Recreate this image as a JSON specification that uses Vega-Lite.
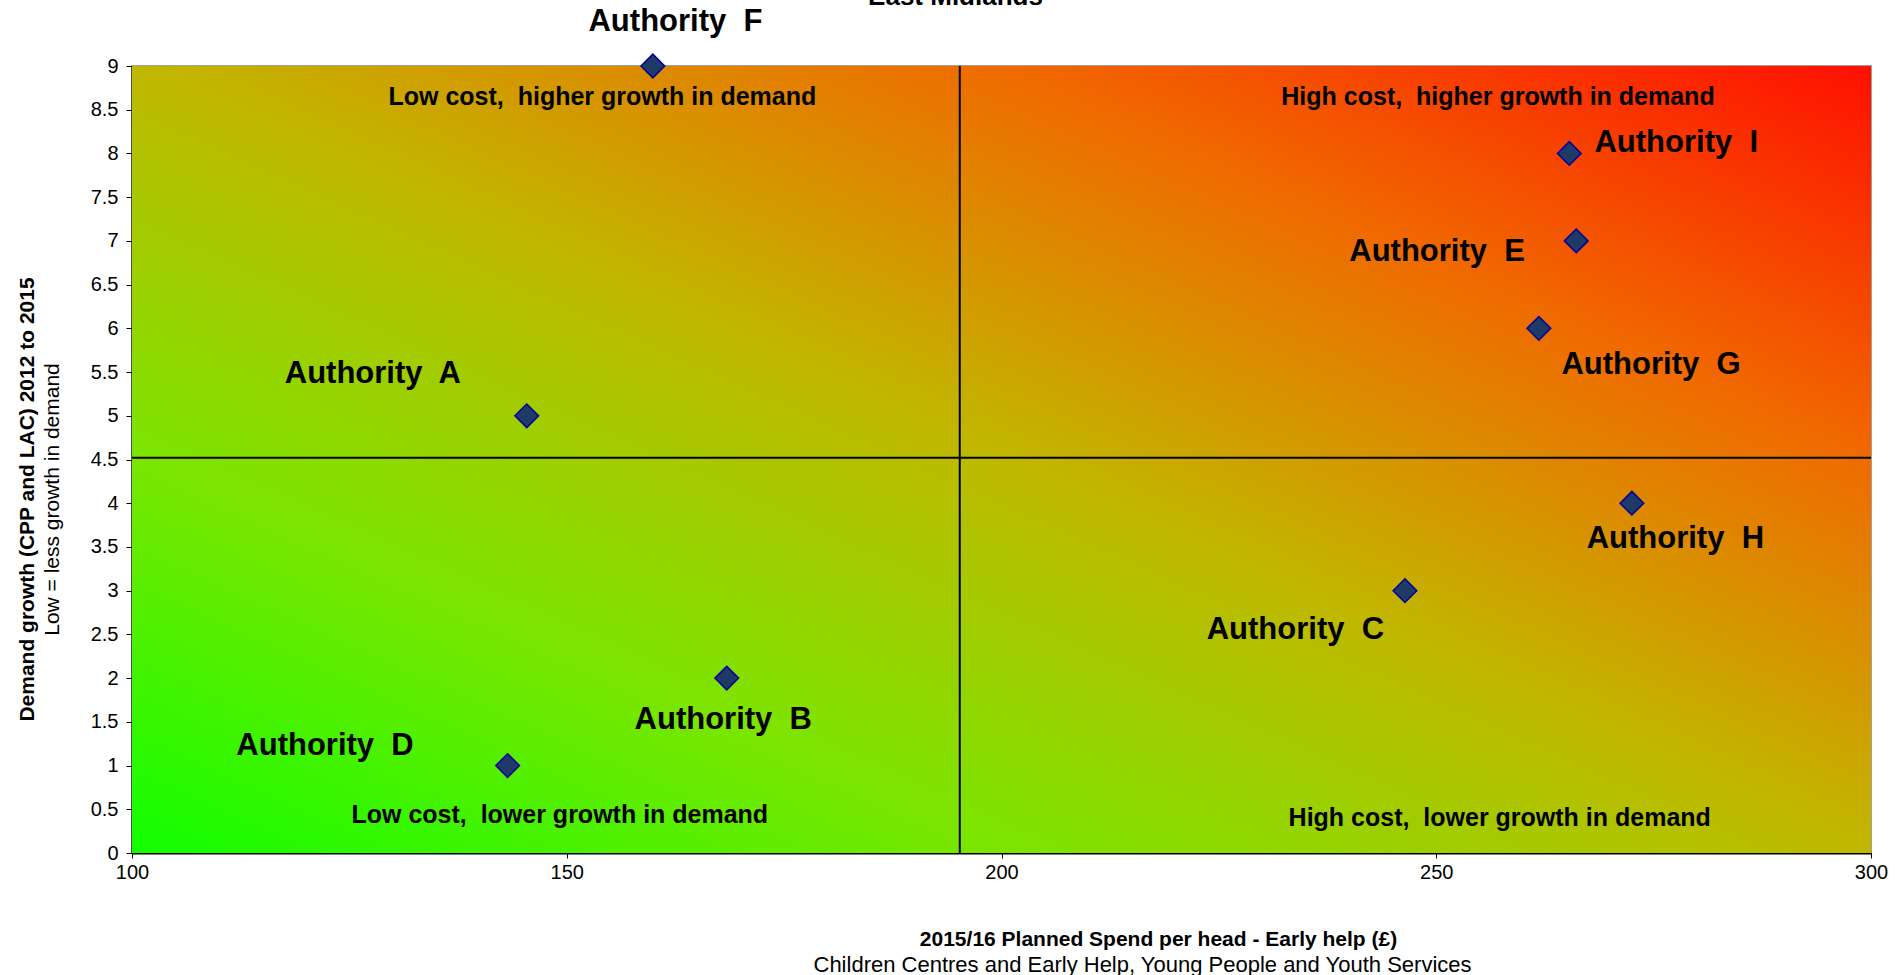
{
  "$schema": "https://vega.github.io/schema/vega-lite/v6.json",
  "width": 1739,
  "height": 787,
  "autosize": "none",
  "padding": {"left": 132, "top": 66, "right": 24, "bottom": 122},
  "background": "white",
  "config": {
    "font": "Liberation Sans",
    "view": {"stroke": "#a0a0a0", "strokeWidth": 2},
    "axis": {"grid": false, "labelColor": "black", "titleColor": "black", "domainColor": "black", "tickColor": "black", "labelFont": "Liberation Sans", "titleFont": "Liberation Sans"}
  },
  "datasets": {
    "thresholds": [
      {"avg_spend": 195.2, "avg_growth": 4.52}
    ],
    "authorities": [
      {"authority": "Authority\u00a0 A", "spend": 145.4, "growth": 5, "label_x": 127.7, "label_y": 5.48},
      {"authority": "Authority\u00a0 B", "spend": 168.4, "growth": 2, "label_x": 168.0, "label_y": 1.52},
      {"authority": "Authority\u00a0 C", "spend": 246.4, "growth": 3, "label_x": 233.8, "label_y": 2.55},
      {"authority": "Authority\u00a0 D", "spend": 143.2, "growth": 1, "label_x": 122.2, "label_y": 1.22},
      {"authority": "Authority\u00a0 E", "spend": 266.1, "growth": 7, "label_x": 250.1, "label_y": 6.87},
      {"authority": "Authority\u00a0 F", "spend": 159.9, "growth": 9, "label_x": 162.5, "label_y": 9.5},
      {"authority": "Authority\u00a0 G", "spend": 261.8, "growth": 6, "label_x": 274.7, "label_y": 5.58},
      {"authority": "Authority\u00a0 H", "spend": 272.5, "growth": 4, "label_x": 277.5, "label_y": 3.59},
      {"authority": "Authority\u00a0 I", "spend": 265.3, "growth": 8, "label_x": 277.6, "label_y": 8.12}
    ],
    "quadrants": [
      {"text": "Low cost,\u00a0 higher growth in demand", "qx": 154.1, "qy": 8.64},
      {"text": "High cost,\u00a0 higher growth in demand", "qx": 257.1, "qy": 8.64},
      {"text": "Low cost,\u00a0 lower growth in demand", "qx": 149.2, "qy": 0.43},
      {"text": "High cost,\u00a0 lower growth in demand", "qx": 257.3, "qy": 0.40}
    ]
  },
  "layer": [
    {
      "data": {"name": "thresholds"},
      "mark": {
        "type": "rect",
        "color": {
          "gradient": "linear",
          "x1": 0, "y1": 1, "x2": 1, "y2": 0,
          "stops": [
            {"offset": 0, "color": "#10ff00"},
            {"offset": 0.25, "color": "#7ae600"},
            {"offset": 0.5, "color": "#c0b800"},
            {"offset": 0.75, "color": "#f06a00"},
            {"offset": 1, "color": "#ff1000"}
          ]
        }
      },
      "encoding": {
        "x": {
          "datum": 100, "type": "quantitative",
          "scale": {"domain": [100, 300], "nice": false, "zero": false},
          "axis": {
            "orient": "bottom",
            "values": [100, 150, 200, 250, 300], "format": "d",
            "labelFontSize": 20, "labelPadding": 4, "labelFlush": false, "tickSize": 5, "domainWidth": 2,
            "title": "2015/16 Planned Spend per head - Early help (£)",
            "titleFontSize": 21, "titleFontWeight": "bold",
            "titleX": 1026, "titleY": 86, "titleBaseline": "middle", "titleAlign": "center"
          }
        },
        "x2": {"datum": 300},
        "y": {
          "datum": 0, "type": "quantitative",
          "scale": {"domain": [0, 9], "nice": false, "zero": false},
          "axis": {
            "orient": "left",
            "values": [0, 0.5, 1, 1.5, 2, 2.5, 3, 3.5, 4, 4.5, 5, 5.5, 6, 6.5, 7, 7.5, 8, 8.5, 9],
            "format": "~g",
            "labelFontSize": 20, "labelPadding": 8, "labelFlush": false, "tickSize": 6, "domainWidth": 2,
            "title": "Demand growth (CPP and LAC) 2012 to 2015",
            "titleFontSize": 21, "titleFontWeight": "bold",
            "titleX": -105, "titleY": 433, "titleBaseline": "middle", "titleAlign": "center", "titleAngle": -90
          }
        },
        "y2": {"datum": 9}
      }
    },
    {
      "data": {"name": "thresholds"},
      "mark": {"type": "rule", "color": "black", "strokeWidth": 2},
      "encoding": {
        "x": {"field": "avg_spend", "type": "quantitative", "scale": {"domain": [100, 300], "nice": false, "zero": false}, "axis": null}
      }
    },
    {
      "data": {"name": "thresholds"},
      "mark": {"type": "rule", "color": "black", "strokeWidth": 2},
      "encoding": {
        "y": {"field": "avg_growth", "type": "quantitative", "scale": {"domain": [0, 9], "nice": false, "zero": false}, "axis": null}
      }
    },
    {
      "data": {"name": "authorities"},
      "mark": {"type": "point", "shape": "diamond", "filled": true, "size": 560, "fill": "#1f3a66", "stroke": "#0000a0", "strokeWidth": 1.5, "opacity": 1},
      "encoding": {
        "x": {"field": "spend", "type": "quantitative", "scale": {"domain": [100, 300], "nice": false, "zero": false}, "axis": null},
        "y": {"field": "growth", "type": "quantitative", "scale": {"domain": [0, 9], "nice": false, "zero": false}, "axis": null}
      }
    },
    {
      "data": {"name": "authorities"},
      "mark": {"type": "text", "fontSize": 31, "fontWeight": "bold", "color": "black", "align": "center", "baseline": "middle", "font": "Liberation Sans"},
      "encoding": {
        "x": {"field": "label_x", "type": "quantitative", "scale": {"domain": [100, 300], "nice": false, "zero": false}, "axis": null},
        "y": {"field": "label_y", "type": "quantitative", "scale": {"domain": [0, 9], "nice": false, "zero": false}, "axis": null},
        "text": {"field": "authority"}
      }
    },
    {
      "data": {"name": "quadrants"},
      "mark": {"type": "text", "fontSize": 25, "fontWeight": "bold", "color": "black", "align": "center", "baseline": "middle", "font": "Liberation Sans"},
      "encoding": {
        "x": {"field": "qx", "type": "quantitative", "scale": {"domain": [100, 300], "nice": false, "zero": false}, "axis": null},
        "y": {"field": "qy", "type": "quantitative", "scale": {"domain": [0, 9], "nice": false, "zero": false}, "axis": null},
        "text": {"field": "text"}
      }
    },
    {
      "data": {"name": "thresholds"},
      "mark": {"type": "point", "opacity": 0},
      "encoding": {
        "x": {
          "field": "avg_spend", "type": "quantitative",
          "scale": {"domain": [100, 300], "nice": false, "zero": false},
          "axis": {
            "orient": "bottom",
            "labels": false, "ticks": false, "domain": false,
            "title": "Children Centres and Early Help, Young People and Youth Services",
            "titleFontSize": 22, "titleFontWeight": "normal",
            "titleX": 1010, "titleY": 111, "titleBaseline": "middle", "titleAlign": "center"
          }
        },
        "y": {
          "field": "avg_growth", "type": "quantitative",
          "scale": {"domain": [0, 9], "nice": false, "zero": false},
          "axis": {
            "orient": "left",
            "labels": false, "ticks": false, "domain": false,
            "title": "Low = less growth in demand",
            "titleFontSize": 21, "titleFontWeight": "normal",
            "titleX": -80, "titleY": 433, "titleBaseline": "middle", "titleAlign": "center", "titleAngle": -90
          }
        }
      }
    },
    {
      "data": {"name": "thresholds"},
      "mark": {"type": "point", "opacity": 0},
      "encoding": {
        "x": {
          "field": "avg_spend", "type": "quantitative",
          "scale": {"domain": [100, 300], "nice": false, "zero": false},
          "axis": {
            "orient": "top",
            "labels": false, "ticks": false, "domain": false,
            "title": "East Midlands",
            "titleFontSize": 26, "titleFontWeight": "bold",
            "titleX": 823, "titleY": -62, "titleBaseline": "alphabetic", "titleAlign": "center"
          }
        },
        "y": {
          "field": "avg_growth", "type": "quantitative",
          "scale": {"domain": [0, 9], "nice": false, "zero": false},
          "axis": null
        }
      }
    }
  ],
  "resolve": {"scale": {"x": "independent", "y": "independent"}, "axis": {"x": "independent", "y": "independent"}}
}
